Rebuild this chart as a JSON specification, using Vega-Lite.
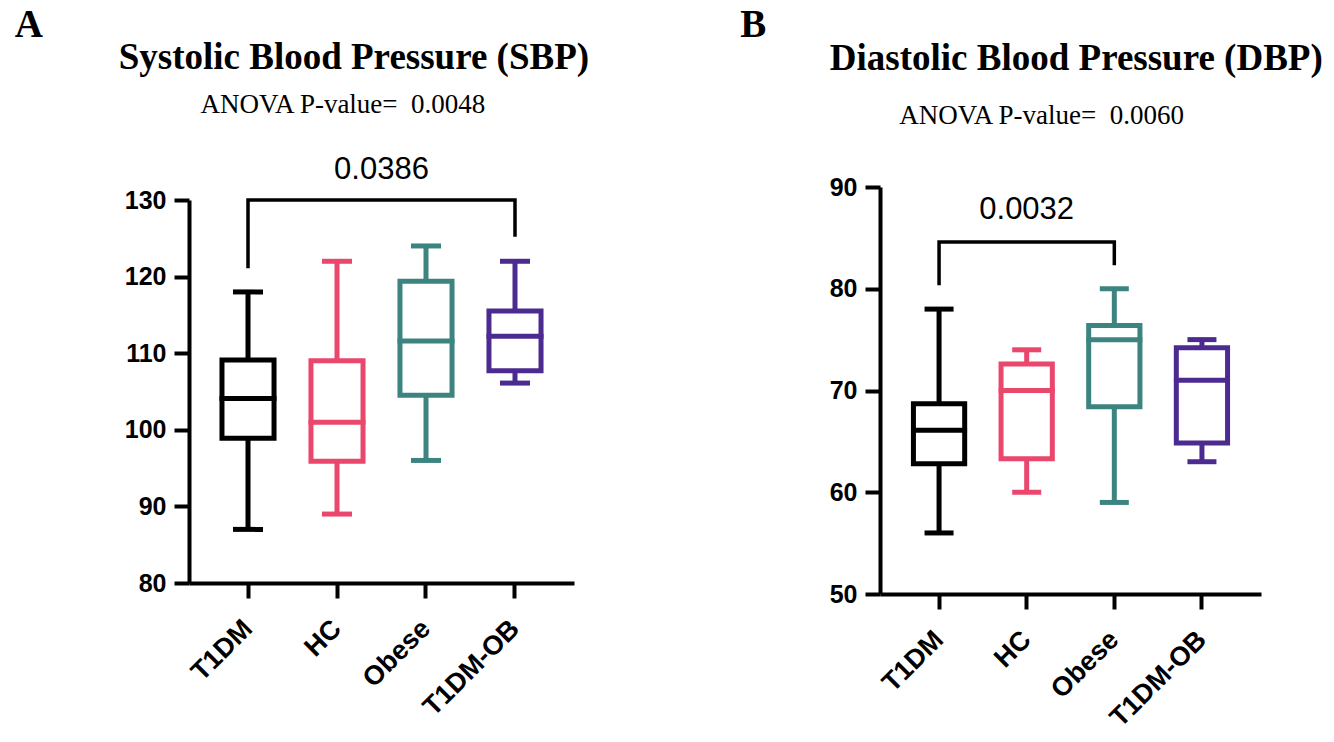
{
  "$schema": "https://vega.github.io/schema/vega-lite/v6.json",
  "background": "white",
  "padding": {"left": 14, "top": 6, "right": 5, "bottom": 5},
  "config": {
    "view": {"stroke": null},
    "font": "Liberation Sans",
    "axis": {"domainColor": "black", "domainWidth": 4, "tickColor": "black", "tickWidth": 4, "tickSize": 15, "labelFont": "Liberation Sans", "labelFontWeight": "bold", "labelFontSize": 25, "labelColor": "black", "grid": false, "labelOverlap": false, "labelFlush": false},
    "axisX": {"labelFontSize": 27, "labelOffset": -9},
    "title": {"font": "Liberation Serif", "fontWeight": "bold", "fontSize": 39, "color": "black", "anchor": "start", "frame": "bounds"}
  },
  "spacing": 150,
  "hconcat": [
    {
      "title": {"text": "A", "dx": -104, "offset": -7},
      "spacing": 0,
      "vconcat": [
        {"width": 1, "height": 1, "data": {"values": []}, "mark": {"type": "point", "opacity": 0}, "encoding": {}},
        {
          "width": 385,
          "height": 383,
          "data": {"values": [
            {"group": "T1DM", "lo": 87, "q1": 98.9, "med": 104.1, "q3": 109.1, "hi": 118},
            {"group": "HC", "lo": 89, "q1": 95.9, "med": 101, "q3": 109, "hi": 122},
            {"group": "Obese", "lo": 96, "q1": 104.5, "med": 111.6, "q3": 119.4, "hi": 124},
            {"group": "T1DM-OB", "lo": 106.1, "q1": 107.7, "med": 112.2, "q3": 115.5, "hi": 122}
          ]},
          "encoding": {
            "x": {"field": "group", "type": "nominal", "title": null, "scale": {"domain": ["T1DM", "HC", "Obese", "T1DM-OB"], "paddingInner": 0, "paddingOuter": 0.163}, "axis": {"title": null, "labelAngle": -45, "labelPadding": 17}}
          },
          "layer": [
            {"mark": {"type": "rule", "strokeWidth": 5, "opacity": 1},
             "encoding": {
               "y": {"field": "lo", "type": "quantitative", "title": null, "scale": {"domain": [80, 130], "nice": false, "zero": false}, "axis": {"title": null, "values": [80, 90, 100, 110, 120, 130], "labelPadding": 8}},
               "y2": {"field": "hi"},
               "color": {"field": "group", "type": "nominal", "scale": {"domain": ["T1DM", "HC", "Obese", "T1DM-OB"], "range": ["#000000", "#EA476D", "#3C847F", "#4B2B8F"]}, "legend": null}
             }},
            {"mark": {"type": "bar", "fill": "white", "strokeWidth": 5, "width": {"band": 0.585}, "opacity": 1, "fillOpacity": 1},
             "encoding": {
               "y": {"field": "q1", "type": "quantitative", "title": null, "scale": {"domain": [80, 130], "nice": false, "zero": false}, "axis": {"title": null, "values": [80, 90, 100, 110, 120, 130], "labelPadding": 8}},
               "y2": {"field": "q3"},
               "stroke": {"field": "group", "type": "nominal", "scale": {"domain": ["T1DM", "HC", "Obese", "T1DM-OB"], "range": ["#000000", "#EA476D", "#3C847F", "#4B2B8F"]}, "legend": null}
             }},
            {"mark": {"type": "tick", "size": 57, "thickness": 5, "opacity": 1, "orient": "horizontal"},
             "encoding": {
               "y": {"field": "med", "type": "quantitative", "title": null, "scale": {"domain": [80, 130], "nice": false, "zero": false}, "axis": {"title": null, "values": [80, 90, 100, 110, 120, 130], "labelPadding": 8}},
               "color": {"field": "group", "type": "nominal", "scale": {"domain": ["T1DM", "HC", "Obese", "T1DM-OB"], "range": ["#000000", "#EA476D", "#3C847F", "#4B2B8F"]}, "legend": null}
             }},
            {"mark": {"type": "tick", "size": 30, "thickness": 5, "opacity": 1, "orient": "horizontal"},
             "encoding": {
               "y": {"field": "lo", "type": "quantitative", "title": null, "scale": {"domain": [80, 130], "nice": false, "zero": false}, "axis": {"title": null, "values": [80, 90, 100, 110, 120, 130], "labelPadding": 8}},
               "color": {"field": "group", "type": "nominal", "scale": {"domain": ["T1DM", "HC", "Obese", "T1DM-OB"], "range": ["#000000", "#EA476D", "#3C847F", "#4B2B8F"]}, "legend": null}
             }},
            {"mark": {"type": "tick", "size": 30, "thickness": 5, "opacity": 1, "orient": "horizontal"},
             "encoding": {
               "y": {"field": "hi", "type": "quantitative", "title": null, "scale": {"domain": [80, 130], "nice": false, "zero": false}, "axis": {"title": null, "values": [80, 90, 100, 110, 120, 130], "labelPadding": 8}},
               "color": {"field": "group", "type": "nominal", "scale": {"domain": ["T1DM", "HC", "Obese", "T1DM-OB"], "range": ["#000000", "#EA476D", "#3C847F", "#4B2B8F"]}, "legend": null}
             }},
            {"data": {"values": [
               {"group": "T1DM", "v": 121.1, "o": 1},
               {"group": "T1DM", "v": 130, "o": 2},
               {"group": "T1DM-OB", "v": 130, "o": 3},
               {"group": "T1DM-OB", "v": 125.2, "o": 4}
             ]},
             "mark": {"type": "line", "color": "black", "strokeWidth": 3.5, "strokeJoin": "miter", "opacity": 1},
             "encoding": {
               "y": {"field": "v", "type": "quantitative", "title": null, "scale": {"domain": [80, 130], "nice": false, "zero": false}, "axis": {"title": null, "values": [80, 90, 100, 110, 120, 130], "labelPadding": 8}},
               "order": {"field": "o", "type": "quantitative"}
             }},
            {"data": {"values": [{"group": "HC", "v": 133.9, "label": "0.0386"}]},
             "mark": {"type": "text", "font": "Liberation Sans", "fontSize": 31, "color": "black", "align": "center", "baseline": "middle"},
             "encoding": {
               "x": {"field": "group", "type": "nominal", "title": null, "bandPosition": 1, "scale": {"domain": ["T1DM", "HC", "Obese", "T1DM-OB"], "paddingInner": 0, "paddingOuter": 0.163}, "axis": {"title": null, "labelAngle": -45, "labelPadding": 17}},
               "y": {"field": "v", "type": "quantitative", "title": null, "scale": {"domain": [80, 130], "nice": false, "zero": false}, "axis": {"title": null, "values": [80, 90, 100, 110, 120, 130], "labelPadding": 8}},
               "text": {"field": "label"}
             }},
            {"data": {"values": [{"group": "HC", "v": 142.4, "label": "ANOVA P-value=\u00a0 0.0048"}]},
             "mark": {"type": "text", "font": "Liberation Serif", "fontSize": 27, "color": "black", "align": "center", "baseline": "middle"},
             "encoding": {
               "x": {"field": "group", "type": "nominal", "title": null, "bandPosition": 0.567, "scale": {"domain": ["T1DM", "HC", "Obese", "T1DM-OB"], "paddingInner": 0, "paddingOuter": 0.163}, "axis": {"title": null, "labelAngle": -45, "labelPadding": 17}},
               "y": {"field": "v", "type": "quantitative", "title": null, "scale": {"domain": [80, 130], "nice": false, "zero": false}, "axis": {"title": null, "values": [80, 90, 100, 110, 120, 130], "labelPadding": 8}},
               "text": {"field": "label"}
             }},
            {"data": {"values": [{"group": "HC", "v": 148.5, "label": "Systolic Blood Pressure (SBP)"}]},
             "mark": {"type": "text", "font": "Liberation Serif", "fontWeight": "bold", "fontSize": 37, "color": "black", "align": "center", "baseline": "middle"},
             "encoding": {
               "x": {"field": "group", "type": "nominal", "title": null, "bandPosition": 0.69, "scale": {"domain": ["T1DM", "HC", "Obese", "T1DM-OB"], "paddingInner": 0, "paddingOuter": 0.163}, "axis": {"title": null, "labelAngle": -45, "labelPadding": 17}},
               "y": {"field": "v", "type": "quantitative", "title": null, "scale": {"domain": [80, 130], "nice": false, "zero": false}, "axis": {"title": null, "values": [80, 90, 100, 110, 120, 130], "labelPadding": 8}},
               "text": {"field": "label"}
             }}
          ]
        }
      ]
    },
    {
      "title": {"text": "B", "dx": -89, "offset": -7},
      "spacing": 0,
      "vconcat": [
        {"width": 1, "height": 1, "data": {"values": []}, "mark": {"type": "point", "opacity": 0}, "encoding": {}},
        {
          "width": 381,
          "height": 407,
          "data": {"values": [
            {"group": "T1DM", "lo": 56, "q1": 62.8, "med": 66.1, "q3": 68.7, "hi": 78},
            {"group": "HC", "lo": 60, "q1": 63.3, "med": 70, "q3": 72.6, "hi": 74},
            {"group": "Obese", "lo": 59, "q1": 68.4, "med": 75, "q3": 76.4, "hi": 80},
            {"group": "T1DM-OB", "lo": 63, "q1": 64.85, "med": 71, "q3": 74.2, "hi": 75}
          ]},
          "encoding": {
            "x": {"field": "group", "type": "nominal", "title": null, "scale": {"domain": ["T1DM", "HC", "Obese", "T1DM-OB"], "paddingInner": 0, "paddingOuter": 0.174}, "axis": {"title": null, "labelAngle": -45, "labelPadding": 17}}
          },
          "layer": [
            {"mark": {"type": "rule", "strokeWidth": 5, "opacity": 1},
             "encoding": {
               "y": {"field": "lo", "type": "quantitative", "title": null, "scale": {"domain": [50, 90], "nice": false, "zero": false}, "axis": {"title": null, "values": [50, 60, 70, 80, 90], "labelPadding": 8}},
               "y2": {"field": "hi"},
               "color": {"field": "group", "type": "nominal", "scale": {"domain": ["T1DM", "HC", "Obese", "T1DM-OB"], "range": ["#000000", "#EA476D", "#3C847F", "#4B2B8F"]}, "legend": null}
             }},
            {"mark": {"type": "bar", "fill": "white", "strokeWidth": 5, "width": {"band": 0.585}, "opacity": 1, "fillOpacity": 1},
             "encoding": {
               "y": {"field": "q1", "type": "quantitative", "title": null, "scale": {"domain": [50, 90], "nice": false, "zero": false}, "axis": {"title": null, "values": [50, 60, 70, 80, 90], "labelPadding": 8}},
               "y2": {"field": "q3"},
               "stroke": {"field": "group", "type": "nominal", "scale": {"domain": ["T1DM", "HC", "Obese", "T1DM-OB"], "range": ["#000000", "#EA476D", "#3C847F", "#4B2B8F"]}, "legend": null}
             }},
            {"mark": {"type": "tick", "size": 56, "thickness": 5, "opacity": 1, "orient": "horizontal"},
             "encoding": {
               "y": {"field": "med", "type": "quantitative", "title": null, "scale": {"domain": [50, 90], "nice": false, "zero": false}, "axis": {"title": null, "values": [50, 60, 70, 80, 90], "labelPadding": 8}},
               "color": {"field": "group", "type": "nominal", "scale": {"domain": ["T1DM", "HC", "Obese", "T1DM-OB"], "range": ["#000000", "#EA476D", "#3C847F", "#4B2B8F"]}, "legend": null}
             }},
            {"mark": {"type": "tick", "size": 29, "thickness": 5, "opacity": 1, "orient": "horizontal"},
             "encoding": {
               "y": {"field": "lo", "type": "quantitative", "title": null, "scale": {"domain": [50, 90], "nice": false, "zero": false}, "axis": {"title": null, "values": [50, 60, 70, 80, 90], "labelPadding": 8}},
               "color": {"field": "group", "type": "nominal", "scale": {"domain": ["T1DM", "HC", "Obese", "T1DM-OB"], "range": ["#000000", "#EA476D", "#3C847F", "#4B2B8F"]}, "legend": null}
             }},
            {"mark": {"type": "tick", "size": 29, "thickness": 5, "opacity": 1, "orient": "horizontal"},
             "encoding": {
               "y": {"field": "hi", "type": "quantitative", "title": null, "scale": {"domain": [50, 90], "nice": false, "zero": false}, "axis": {"title": null, "values": [50, 60, 70, 80, 90], "labelPadding": 8}},
               "color": {"field": "group", "type": "nominal", "scale": {"domain": ["T1DM", "HC", "Obese", "T1DM-OB"], "range": ["#000000", "#EA476D", "#3C847F", "#4B2B8F"]}, "legend": null}
             }},
            {"data": {"values": [
               {"group": "T1DM", "v": 80.35, "o": 1},
               {"group": "T1DM", "v": 84.6, "o": 2},
               {"group": "Obese", "v": 84.6, "o": 3},
               {"group": "Obese", "v": 82.3, "o": 4}
             ]},
             "mark": {"type": "line", "color": "black", "strokeWidth": 3.5, "strokeJoin": "miter", "opacity": 1},
             "encoding": {
               "y": {"field": "v", "type": "quantitative", "title": null, "scale": {"domain": [50, 90], "nice": false, "zero": false}, "axis": {"title": null, "values": [50, 60, 70, 80, 90], "labelPadding": 8}},
               "order": {"field": "o", "type": "quantitative"}
             }},
            {"data": {"values": [{"group": "HC", "v": 87.73, "label": "0.0032"}]},
             "mark": {"type": "text", "font": "Liberation Sans", "fontSize": 31, "color": "black", "align": "center", "baseline": "middle"},
             "encoding": {
               "x": {"field": "group", "type": "nominal", "title": null, "bandPosition": 0.5, "scale": {"domain": ["T1DM", "HC", "Obese", "T1DM-OB"], "paddingInner": 0, "paddingOuter": 0.174}, "axis": {"title": null, "labelAngle": -45, "labelPadding": 17}},
               "y": {"field": "v", "type": "quantitative", "title": null, "scale": {"domain": [50, 90], "nice": false, "zero": false}, "axis": {"title": null, "values": [50, 60, 70, 80, 90], "labelPadding": 8}},
               "text": {"field": "label"}
             }},
            {"data": {"values": [{"group": "HC", "v": 96.97, "label": "ANOVA P-value=\u00a0 0.0060"}]},
             "mark": {"type": "text", "font": "Liberation Serif", "fontSize": 27, "color": "black", "align": "center", "baseline": "middle"},
             "encoding": {
               "x": {"field": "group", "type": "nominal", "title": null, "bandPosition": 0.67, "scale": {"domain": ["T1DM", "HC", "Obese", "T1DM-OB"], "paddingInner": 0, "paddingOuter": 0.174}, "axis": {"title": null, "labelAngle": -45, "labelPadding": 17}},
               "y": {"field": "v", "type": "quantitative", "title": null, "scale": {"domain": [50, 90], "nice": false, "zero": false}, "axis": {"title": null, "values": [50, 60, 70, 80, 90], "labelPadding": 8}},
               "text": {"field": "label"}
             }},
            {"data": {"values": [{"group": "Obese", "v": 102.58, "label": "Diastolic Blood Pressure (DBP)"}]},
             "mark": {"type": "text", "font": "Liberation Serif", "fontWeight": "bold", "fontSize": 37, "color": "black", "align": "center", "baseline": "middle"},
             "encoding": {
               "x": {"field": "group", "type": "nominal", "title": null, "bandPosition": 0.066, "scale": {"domain": ["T1DM", "HC", "Obese", "T1DM-OB"], "paddingInner": 0, "paddingOuter": 0.174}, "axis": {"title": null, "labelAngle": -45, "labelPadding": 17}},
               "y": {"field": "v", "type": "quantitative", "title": null, "scale": {"domain": [50, 90], "nice": false, "zero": false}, "axis": {"title": null, "values": [50, 60, 70, 80, 90], "labelPadding": 8}},
               "text": {"field": "label"}
             }}
          ]
        }
      ]
    }
  ]
}
